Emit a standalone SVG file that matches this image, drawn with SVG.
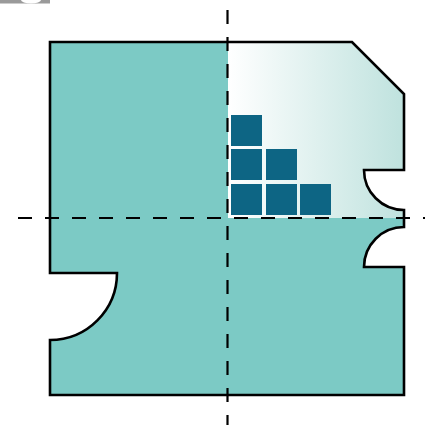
<svg xmlns="http://www.w3.org/2000/svg" width="425" height="425" viewBox="0 0 425 425">
<style>
.dash{stroke:#000;stroke-width:2.2;stroke-dasharray:14 13;fill:none}
.outline{fill:none;stroke:#000;stroke-width:2.6;stroke-linejoin:miter}
.sq{fill:#0d6584}
</style>
<defs>
<linearGradient id="g" x1="228" y1="0" x2="404" y2="0" gradientUnits="userSpaceOnUse">
<stop offset="0" stop-color="#ffffff"/>
<stop offset="1" stop-color="#bfe2de"/>
</linearGradient>
<clipPath id="c">
<path id="shape" d="M50,42 H352 L404,94 V170 H364 A40,40 0 0 0 404,210 V227 A40,40 0 0 0 364,267 H404 V395 H50 V340 A67,67 0 0 0 117,273 H50 Z"/>
</clipPath>
</defs>
<rect x="0" y="0" width="50" height="3.5" fill="#9a9a9a"/>
<ellipse cx="31" cy="0" rx="10" ry="3.5" fill="#fff"/>
<g id="piece">
<g clip-path="url(#c)">
<rect x="40" y="30" width="380" height="380" fill="#7ccac5"/>
<rect x="228" y="30" width="190" height="188" fill="url(#g)"/>
</g>
<path class="outline" d="M50,42 H352 L404,94 V170 H364 A40,40 0 0 0 404,210 V227 A40,40 0 0 0 364,267 H404 V395 H50 V340 A67,67 0 0 0 117,273 H50 Z"/>
</g>
<g id="blocks">
<rect class="sq" x="231" y="115" width="31" height="31"/>
<rect class="sq" x="231" y="149" width="31" height="31"/>
<rect class="sq" x="266" y="149" width="31" height="31"/>
<rect class="sq" x="231" y="184" width="31" height="31"/>
<rect class="sq" x="266" y="184" width="31" height="31"/>
<rect class="sq" x="300" y="184" width="31" height="31"/>
</g>
<g id="connectors">
<line class="dash" x1="227.5" y1="10" x2="227.5" y2="425"/>
<line class="dash" x1="18" y1="218" x2="425" y2="218"/>
</g>
</svg>
